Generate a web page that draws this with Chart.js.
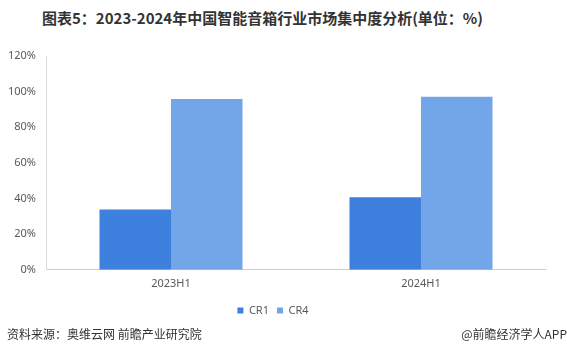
<!DOCTYPE html>
<html>
<head>
<meta charset="utf-8">
<script src="https://cdn.jsdelivr.net/npm/chart.js@4/dist/chart.umd.min.js"></script>
<style>
  html, body { margin: 0; padding: 0; background: #fff; }
  body { width: 567px; height: 363px; position: relative; overflow: hidden; font-family: "Noto Sans CJK SC", "Noto Sans", sans-serif; }
  #title { position: absolute; left: 42px; top: 7px; font-size: 15px; font-weight: bold; color: #333; white-space: nowrap; }
  #src { position: absolute; left: 7px; top: 325px; font-size: 12px; color: #333; white-space: nowrap; }
  #brand { position: absolute; right: 0px; top: 325px; font-size: 12px; color: #333; white-space: nowrap; }
  #wrap { position: absolute; left: 0; top: 0; width: 567px; height: 336px; }
</style>
</head>
<body>
<div id="title">图表5：2023-2024年中国智能音箱行业市场集中度分析(单位：%)</div>
<div id="wrap"><canvas id="c"></canvas></div>
<div id="src">资料来源：奥维云网 前瞻产业研究院</div>
<div id="brand">@前瞻经济学人APP</div>
<script>
const categories = ["2023H1", "2024H1"];
const cr1 = [33.8, 40.7];
const cr4 = [95.8, 97.1];
const seriesNames = ["CR1", "CR4"];
const yTicks = [0, 20, 40, 60, 80, 100, 120];

const tickFont = { family: "'Noto Sans', 'Liberation Sans', sans-serif", size: 11 };

new Chart(document.getElementById('c'), {
  type: 'bar',
  data: {
    labels: categories,
    datasets: [
      { label: seriesNames[0], data: cr1, backgroundColor: '#3d80de', categoryPercentage: 0.572, barPercentage: 1.0 },
      { label: seriesNames[1], data: cr4, backgroundColor: '#72a6e9', categoryPercentage: 0.572, barPercentage: 1.0 }
    ]
  },
  options: {
    responsive: true,
    maintainAspectRatio: false,
    animation: false,
    layout: { padding: { left: 0, right: 21, top: 56, bottom: 10 } },
    plugins: {
      legend: {
        position: 'bottom',
        labels: { boxWidth: 6, boxHeight: 6, color: '#595959', font: tickFont, padding: 8 }
      },
      tooltip: { enabled: false }
    },
    scales: {
      x: {
        grid: { display: false, drawTicks: false },
        border: { display: true, color: '#d0d0d0' },
        ticks: { color: '#595959', font: tickFont, padding: 7 }
      },
      y: {
        min: 0, max: 120,
        afterBuildTicks: (s) => { s.ticks = yTicks.map(v => ({ value: v })); },
        afterFit: (s) => { s.width = 46; },
        grid: { display: false, drawTicks: false },
        border: { display: true, color: '#d9d9d9' },
        ticks: { color: '#595959', font: tickFont, padding: 10, callback: (v) => v + '%' }
      }
    }
  }
});
</script>
</body>
</html>
